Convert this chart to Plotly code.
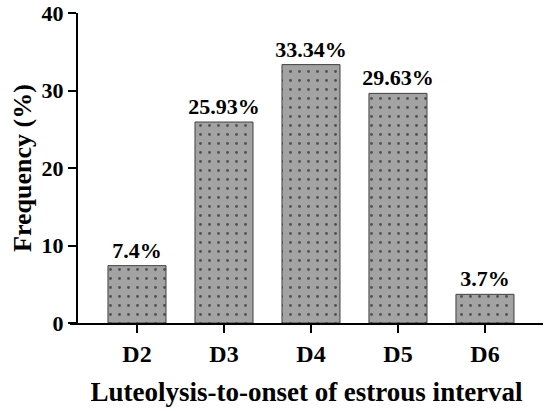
import plotly.graph_objects as go

# Data
categories = ["D2", "D3", "D4", "D5", "D6"]
frequency = [7.4, 25.93, 33.34, 29.63, 3.7]
labels = ["7.4%", "25.93%", "33.34%", "29.63%", "3.7%"]

font_family = "Liberation Serif"

fig = go.Figure()

fig.add_trace(go.Bar(
    x=categories,
    y=frequency,
    text=labels,
    textposition="outside",
    constraintext="none",
    cliponaxis=False,
    width=0.667,
    textfont=dict(family=font_family, size=22, color="black", weight="bold"),
    marker=dict(
        color="#a3a3a3",
        line=dict(color="#404040", width=1),
        pattern=dict(shape=".", fgcolor="black", bgcolor="#a3a3a3",
                     size=9, solidity=0.08, fillmode="overlay"),
    ),
))

fig.update_layout(
    width=550,
    height=411,
    margin=dict(l=70, r=7, t=13, b=88),
    plot_bgcolor="white",
    paper_bgcolor="white",
    showlegend=False,
    font=dict(family=font_family, color="black"),
    xaxis=dict(
        range=[-0.77, 4.667],
        automargin=False,
        showline=True, linecolor="black", linewidth=2,
        ticks="outside", ticklen=8, tickwidth=2, tickcolor="black",
        tickfont=dict(family=font_family, size=24, weight="bold"),
        title=dict(text="Luteolysis-to-onset of estrous interval",
                   font=dict(family=font_family, size=27, weight="bold"),
                   standoff=16),
        showgrid=False,
    ),
    yaxis=dict(
        range=[0, 40],
        tickvals=[0, 10, 20, 30, 40],
        anchor="free",
        position=7 / 473,
        automargin=False,
        showline=True, linecolor="black", linewidth=2,
        ticks="outside", ticklen=8, tickwidth=2, tickcolor="black",
        tickfont=dict(family=font_family, size=22, weight="bold"),
        title=dict(text="Frequency (%)",
                   font=dict(family=font_family, size=26, weight="bold"),
                   standoff=1),
        showgrid=False,
        zeroline=False,
    ),
)

# drop the default page margin so the figure sits at the window's corner
fig.write_html("out.html", config={"displayModeBar": False},
               post_script="document.body.style.margin = '0';")
